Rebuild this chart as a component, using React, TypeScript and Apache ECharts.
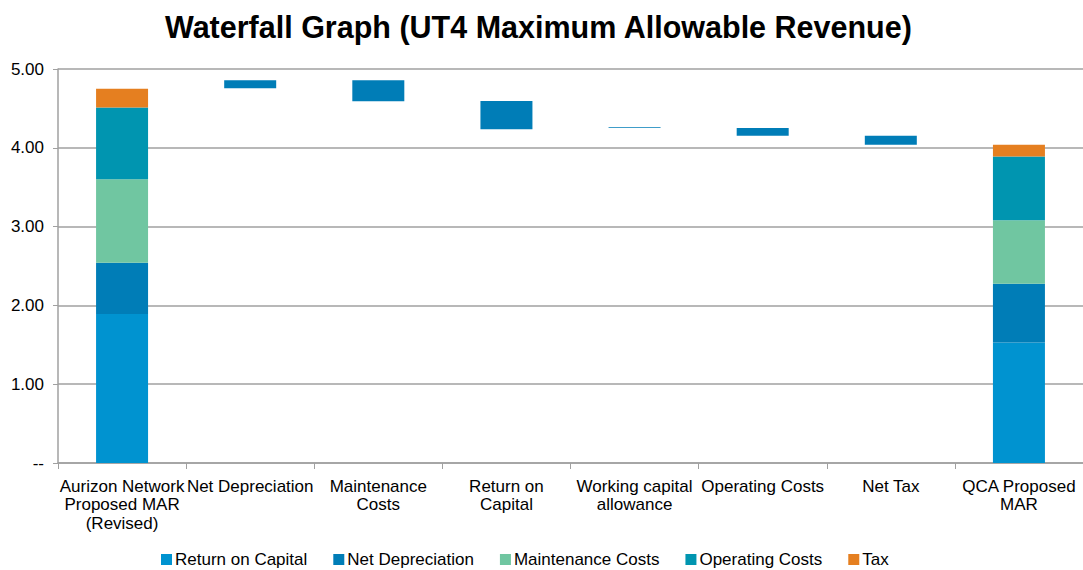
import React, { useEffect, useRef } from "react";
import * as echarts from "echarts";

const categories = [
  "Aurizon Network\nProposed MAR\n(Revised)",
  "Net Depreciation",
  "Maintenance\nCosts",
  "Return on\nCapital",
  "Working capital\nallowance",
  "Operating Costs",
  "Net Tax",
  "QCA Proposed\nMAR",
];

// Stacked components for the two total bars (0 for waterfall steps)
const returnOnCapital = [1.89, 0, 0, 0, 0, 0, 0, 1.53];
const netDepreciation = [0.65, 0, 0, 0, 0, 0, 0, 0.745];
const maintenanceCosts = [1.06, 0, 0, 0, 0, 0, 0, 0.805];
const operatingCosts = [0.91, 0, 0, 0, 0, 0, 0, 0.81];
const tax = [0.24, 0, 0, 0, 0, 0, 0, 0.15];

// Waterfall steps: invisible base (lower end) and visible change height
const stepBase = [0, 4.755, 4.59, 4.235, 4.25, 4.154, 4.04, 0];
const stepChange = [0, 0.102, 0.267, 0.359, 0.012, 0.096, 0.114, 0];

const yTicks = [0, 1, 2, 3, 4, 5];

const FONT = "Liberation Sans, Arial, sans-serif";

export default function App() {
  const ref = useRef<HTMLDivElement>(null);
  useEffect(() => {
    if (!ref.current) return;
    const chart = echarts.init(ref.current, undefined, { renderer: "svg" });
    const barW = 52;
    const comp = (name: string, data: number[], color: string) => ({
      name,
      type: "bar",
      stack: "total",
      barWidth: barW,
      data,
      itemStyle: { color },
    });
    chart.setOption({
      animation: false,
      textStyle: { fontFamily: FONT },
      title: {
        text: "Waterfall Graph (UT4 Maximum Allowable Revenue)",
        left: 160,
        top: 6,
        textStyle: { fontSize: 30.5, fontWeight: "bold", color: "#000", fontFamily: FONT },
      },
      legend: {
        data: ["Return on Capital", "Net Depreciation", "Maintenance Costs", "Operating Costs", "Tax"],
        bottom: -3,
        left: 156,
        itemWidth: 11,
        itemHeight: 11,
        itemGap: 26,
        icon: "rect",
        textStyle: { fontSize: 17, color: "#000", fontFamily: FONT, padding: [0, 0, 0, -2] },
      },
      grid: { left: 58, right: 0, top: 69, bottom: 107 },
      xAxis: {
        type: "category",
        data: categories,
        axisLine: { lineStyle: { color: "#A0A0A0", width: 1.5 } },
        axisTick: { show: true, length: 6, alignWithLabel: false, lineStyle: { color: "#A0A0A0" } },
        axisLabel: {
          interval: 0,
          fontSize: 17,
          color: "#000",
          lineHeight: 18.5,
          margin: 14,
          fontFamily: FONT,
        },
      },
      yAxis: {
        type: "value",
        min: yTicks[0],
        max: yTicks[yTicks.length - 1],
        interval: 1,
        axisLine: { show: true, lineStyle: { color: "#A0A0A0", width: 1.5 } },
        axisTick: { show: true, length: 5, lineStyle: { color: "#A0A0A0" } },
        splitLine: { lineStyle: { color: "#A0A0A0", width: 1.5 } },
        axisLabel: {
          fontSize: 17,
          color: "#000",
          margin: 14,
          fontFamily: FONT,
          formatter: (v: number) => (v === 0 ? "--" : v.toFixed(2)),
        },
      },
      series: [
        comp("Return on Capital", returnOnCapital, "#0093D0"),
        comp("Net Depreciation", netDepreciation, "#007DB7"),
        comp("Maintenance Costs", maintenanceCosts, "#70C6A1"),
        comp("Operating Costs", operatingCosts, "#0095B0"),
        comp("Tax", tax, "#E57F20"),
        {
          name: "Base",
          type: "bar",
          stack: "total",
          barWidth: barW,
          data: stepBase,
          itemStyle: { color: "rgba(0,0,0,0)" },
          silent: true,
        },
        {
          name: "Change",
          type: "bar",
          stack: "total",
          barWidth: barW,
          data: stepChange,
          itemStyle: { color: "#007DB7" },
        },
      ],
    });
    return () => chart.dispose();
  }, []);
  return (
    <div
      ref={ref}
      style={{ position: "fixed", left: 0, top: 0, width: 1083, height: 570, background: "#fff" }}
    />
  );
}
